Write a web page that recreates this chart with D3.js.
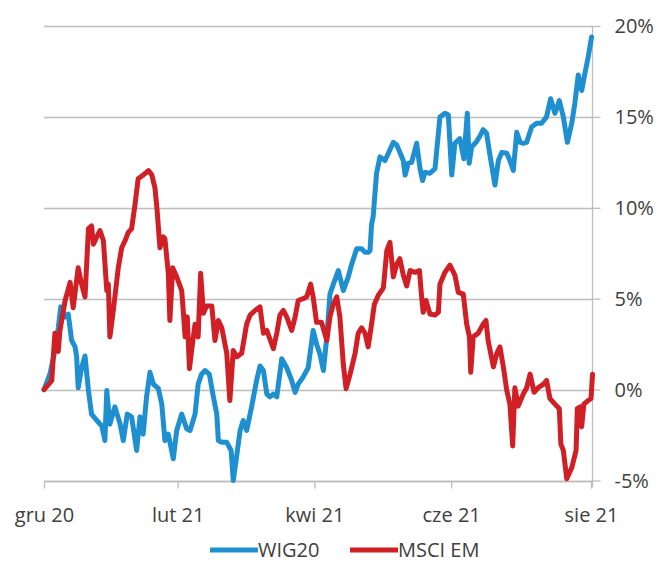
<!DOCTYPE html>
<html><head><meta charset="utf-8">
<script src="https://cdn.jsdelivr.net/npm/d3@7"></script>
<style>body{margin:0;background:#fff;} svg{display:block;} text{font-family:"Open Sans",sans-serif;fill:#404040;}</style>
</head><body>
<svg id="c" width="658" height="574"></svg>
<script>
// x position = trading-day index from 1 Dec 2020
const tickDays = [0, 43, 87, 131, 176];
const tickLabels = ["gru 20", "lut 21", "kwi 21", "cze 21", "sie 21"];
const yTicks = [-5, 0, 5, 10, 15, 20];
const seriesNames = ["WIG20", "MSCI EM"];

const wigDays = [0,1.9,3.5,4.6,5.4,6.8,7.8,8.9,10.0,10.5,11.0,12.1,13.2,14.3,15.3,17.0,18.6,19.6,20.2,21.2,22.8,24.5,25.5,26.8,28.2,29.8,30.9,31.9,33.0,34.1,35.2,36.8,37.9,38.9,40.0,41.6,42.7,44.3,45.9,47.0,48.6,49.6,50.7,51.8,53.2,54.5,55.6,56.1,57.2,58.8,60.2,60.9,61.8,63.1,64.1,65.2,66.8,68.4,69.5,70.6,71.7,72.7,73.8,74.9,76.5,78.1,79.7,80.8,81.8,83.4,85.0,86.6,87.7,88.8,89.9,91.0,92.0,93.1,94.7,96.3,97.9,99.0,100.6,102.2,103.3,104.3,104.9,105.4,105.9,107.0,108.1,109.7,110.8,112.4,113.5,114.5,115.6,116.2,117.2,118.3,119.9,121.0,121.8,122.6,124.2,125.8,127.4,129.0,130.1,131.2,132.2,133.8,135.1,136.2,136.8,137.6,139.0,140.3,141.3,142.4,143.4,145.1,146.2,147.3,148.9,149.9,151.0,152.1,153.2,154.2,155.3,156.9,158.5,160.1,161.7,163.0,164.4,165.8,167.1,168.4,169.8,170.8,171.9,173.0,174.1,175.1,176.2];
const wigValues = [0,0.85,2.15,3.4,4.55,4.0,4.15,2.7,2.35,1.8,0.1,1.2,1.85,-0.05,-1.35,-1.7,-2.0,-2.8,-0.05,-1.9,-0.95,-1.9,-2.8,-1.35,-1.5,-3.35,-1.5,-2.45,-0.4,0.95,0.3,0.05,-0.8,-2.8,-2.45,-3.8,-2.25,-1.35,-2.15,-2.25,-1.35,0.3,0.85,1.05,0.85,-0.4,-1.35,-2.8,-2.9,-2.9,-3.35,-5.0,-3.9,-2.25,-1.7,-2.25,-0.95,0.5,1.3,1.05,-0.25,-0.4,-0.25,-0.4,1.7,1.2,0.5,-0.15,0.3,0.7,1.2,3.25,2.5,1.95,1.05,2.9,5.25,5.8,6.55,5.45,6.2,6.9,7.75,7.75,7.55,7.55,7.65,9.1,9.5,11.9,12.8,12.6,13.0,13.6,13.45,13.05,12.6,11.8,12.45,12.5,13.55,12.15,11.5,11.95,11.9,12.15,15.0,15.2,15.1,11.8,13.55,13.8,12.7,15.2,12.45,13.35,13.6,13.95,14.3,14.1,13.0,11.25,12.6,13.05,13.0,12.6,12.05,14.15,13.6,13.55,13.6,14.45,14.65,14.65,15.0,16.0,15.2,15.9,15.0,13.6,14.65,15.75,17.3,16.45,17.45,18.3,19.4];

const emDays = [0,2.5,3.5,4.6,5.1,6.8,8.4,9.4,11.0,12.1,13.2,14.3,15.3,15.9,17.0,18.0,19.1,20.2,20.7,21.2,22.3,23.9,25.0,26.1,27.1,28.2,29.3,30.3,31.9,33.6,34.7,35.7,36.4,37.3,38.4,38.9,40.0,40.5,41.4,42.7,44.3,44.8,45.4,46.1,46.8,47.5,48.6,49.6,50.4,51.3,52.3,54.0,55.0,56.1,57.2,58.8,59.8,60.9,62.0,63.6,65.2,66.3,67.9,69.5,70.6,71.7,73.8,74.9,75.9,77.0,78.1,79.7,80.8,81.8,83.4,84.5,85.8,86.6,87.7,89.3,91.0,92.0,93.1,94.2,95.2,96.3,97.2,98.5,100.1,101.1,102.2,103.3,104.3,105.4,106.3,107.6,109.2,110.3,111.3,112.4,113.5,114.5,115.6,116.7,117.8,119.4,120.8,121.5,122.0,122.9,124.2,125.8,126.9,127.4,129.0,130.6,132.2,133.3,134.9,136.0,136.9,137.3,138.1,139.7,141.3,142.2,142.9,144.6,145.7,146.7,147.8,148.9,149.9,150.8,151.5,152.6,154.2,155.3,156.4,157.7,159.0,160.7,161.7,162.8,164.4,165.8,166.3,167.1,168.2,169.8,171.2,171.6,172.5,173.0,173.7,175.1,176.0,176.5];
const emValues = [0,0.5,3.1,2.1,3.2,4.9,5.9,4.5,6.7,5.8,5.1,8.85,9.0,8.0,8.4,8.75,8.2,5.45,5.8,2.9,4.35,6.7,7.8,8.2,8.65,8.85,10.2,11.6,11.8,12.05,11.8,11.1,9.85,7.8,8.4,8.3,6.4,3.8,6.7,6.2,5.45,4.35,2.9,4.0,1.15,2.15,3.6,2.9,6.4,4.2,4.6,4.6,2.7,3.8,3.4,2.0,-0.6,2.15,1.8,2.0,3.6,4.1,4.35,4.55,3.1,3.25,2.25,3.1,4.1,4.35,4.0,3.25,4.0,4.9,5.0,5.1,5.8,5.1,3.7,3.7,2.7,4.0,4.7,5.1,4.0,1.4,0.05,0.85,2.0,3.1,3.4,3.1,2.35,3.6,4.7,5.2,5.6,7.65,8.1,6.2,6.9,7.2,6.3,5.7,6.55,6.45,6.55,5.1,4.25,4.9,4.15,4.1,4.25,5.8,6.45,6.85,6.3,5.35,5.25,3.6,2.9,0.95,2.9,3.1,3.6,3.8,2.7,1.25,2.0,2.35,1.25,-0.05,-0.8,-3.1,0.1,-0.9,-0.25,0.1,0.85,-0.15,0.1,0.3,0.5,-0.5,-0.8,-1.05,-3.0,-3.35,-4.9,-4.3,-3.35,-1.05,-0.95,-2.05,-0.8,-0.6,-0.5,0.85];

const colors = ["#1e8fd0", "#d11f26"];
const gridColor = "#bdbdbd";

const svg = d3.select("#c");
const x = d3.scaleLinear().domain([0, 176]).range([44, 591]);
const y = d3.scaleLinear().domain([-5, 20]).range([480.5, 26]);
const axisX = 592.5;

// gridlines
svg.append("g").selectAll("line").data(yTicks).join("line")
  .attr("x1", 44).attr("x2", axisX).attr("y1", d => Math.round(y(d)) + 0.5).attr("y2", d => Math.round(y(d)) + 0.5)
  .attr("stroke", gridColor).attr("stroke-width", 1.3);

// right axis
const yAxis = d3.axisRight(y).tickValues(yTicks).tickSize(8).tickPadding(14).tickFormat(d => d + "%");
const gy = svg.append("g").attr("transform", `translate(${axisX},0)`).call(yAxis);
gy.select(".domain").attr("stroke", gridColor).attr("stroke-width", 1.3).attr("d", `M0,${y(20)}V${y(-5) + 7}`);
gy.selectAll(".tick line").attr("stroke", gridColor).attr("stroke-width", 1.3);
gy.selectAll(".tick text").attr("font-size", 20).attr("font-family", "'Open Sans', sans-serif").attr("fill", "#404040").attr("dy", "0.33em");

// bottom axis
const xAxis = d3.axisBottom(x).tickValues(tickDays).tickSize(7).tickPadding(19).tickFormat((d, i) => tickLabels[i]);
const gx = svg.append("g").attr("transform", `translate(0,${Math.round(y(-5)) + 0.5})`).call(xAxis);
gx.select(".domain").attr("stroke", gridColor).attr("stroke-width", 1.3).attr("d", `M44,0H${axisX}`);
gx.selectAll(".tick line").attr("stroke", gridColor).attr("stroke-width", 1.3);
gx.selectAll(".tick text").attr("font-size", 20).attr("font-family", "'Open Sans', sans-serif").attr("fill", "#404040");

// lines
const line = d3.line().x(d => x(d[0])).y(d => y(d[1]));
const series = [
  d3.zip(wigDays, wigValues),
  d3.zip(emDays, emValues)
];
svg.append("g").selectAll("path").data(series).join("path")
  .attr("d", line).attr("fill", "none")
  .attr("stroke", (d, i) => colors[i]).attr("stroke-width", 5)
  .attr("stroke-linejoin", "round").attr("stroke-linecap", "round");

// legend
const legendItems = [{x: 210, tx: 258}, {x: 350, tx: 398}];
const lg = svg.append("g").attr("transform", "translate(0,550)");
legendItems.forEach((p, i) => {
  lg.append("line").attr("x1", p.x).attr("x2", p.x + 48).attr("y1", 0).attr("y2", 0)
    .attr("stroke", colors[i]).attr("stroke-width", 5);
  lg.append("text").attr("x", p.tx).attr("y", 0).attr("dy", "0.35em")
    .attr("font-size", 20).text(seriesNames[i]);
});
</script>
</body></html>
